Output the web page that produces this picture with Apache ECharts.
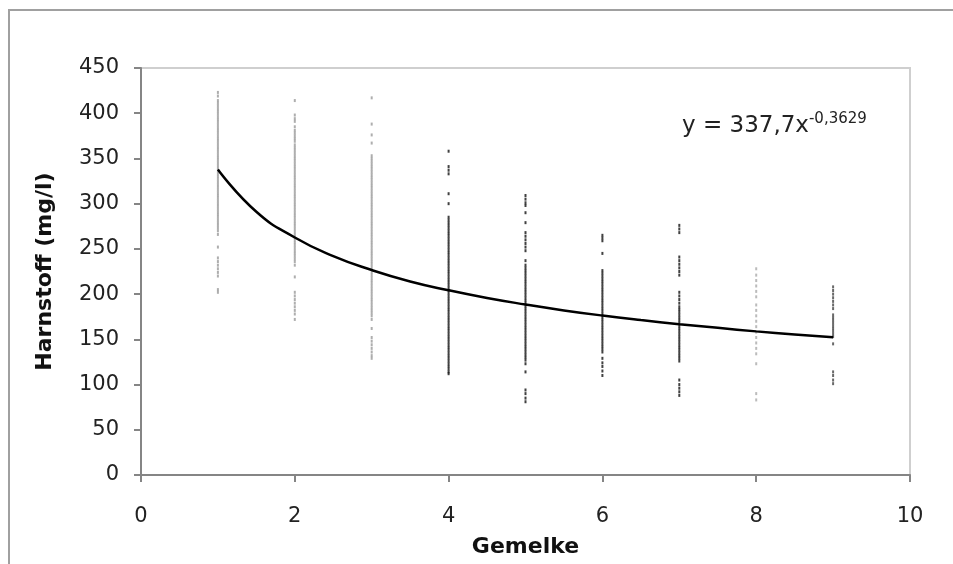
<!DOCTYPE html>
<html>
<head>
<meta charset="utf-8">
<script src="https://cdn.jsdelivr.net/npm/echarts@6/dist/echarts.min.js"></script>
<style>html,body{margin:0;padding:0;background:#fff}#c{width:953px;height:564px}</style>
</head>
<body>
<div id="c"></div>
<script>
// Gemelke (x positions of the columns)
const gemelke = [1, 2, 3, 4, 5, 6, 7, 8, 9];
// Harnstoff values (mg/l) per Gemelke
const col1 = [423, 419, 414, 411, 408, 405, 402, 399, 396, 393, 390, 387, 384, 381, 378, 375, 372, 369, 366, 363, 360, 357, 354, 351, 348, 345, 342, 339, 336, 333, 330, 327, 324, 321, 318, 315, 312, 309, 306, 303, 300, 297, 294, 291, 288, 285, 282, 279, 276, 273, 270, 266, 252, 240, 236, 232, 228, 224, 220, 205, 202];
const col2 = [414, 398, 394, 391, 385, 381, 378, 375, 372, 369, 365, 362, 359, 356, 353, 350, 347, 344, 341, 338, 335, 332, 329, 326, 323, 320, 317, 314, 311, 308, 305, 302, 299, 296, 293, 290, 287, 284, 281, 278, 275, 272, 269, 266, 263, 260, 257, 254, 251, 248, 245, 242, 239, 236, 232, 219, 202, 198, 194, 190, 186, 182, 178, 172];
const col3 = [417, 388, 376, 367, 353, 350, 347, 344, 341, 338, 335, 332, 329, 326, 323, 320, 317, 314, 311, 308, 305, 302, 299, 296, 293, 290, 287, 284, 281, 278, 275, 272, 269, 266, 263, 260, 257, 254, 251, 248, 245, 242, 239, 236, 233, 230, 227, 224, 221, 218, 215, 212, 209, 206, 203, 200, 197, 194, 191, 188, 185, 182, 179, 176, 172, 162, 152, 148, 144, 140, 136, 132, 129];
const col4 = [358, 341, 337, 333, 311, 300, 285, 282, 279, 276, 273, 270, 267, 264, 261, 258, 255, 252, 249, 246, 243, 240, 237, 234, 231, 228, 225, 222, 219, 216, 213, 210, 207, 204, 201, 198, 195, 192, 189, 186, 183, 180, 177, 174, 171, 168, 165, 162, 159, 156, 153, 150, 147, 144, 141, 138, 135, 132, 129, 126, 123, 120, 117, 114, 112];
const col5 = [309, 305, 301, 298, 290, 279, 268, 264, 260, 256, 252, 248, 237, 232, 229, 226, 223, 220, 217, 214, 211, 208, 205, 202, 199, 196, 193, 190, 187, 184, 181, 178, 175, 172, 169, 166, 163, 160, 157, 154, 151, 148, 145, 142, 139, 136, 133, 130, 127, 123, 114, 94, 90, 85, 81];
const col6 = [265, 262, 259, 245, 226, 223, 220, 217, 214, 211, 208, 205, 202, 199, 196, 193, 190, 187, 184, 181, 178, 175, 172, 169, 166, 163, 160, 157, 154, 151, 148, 145, 142, 139, 136, 129, 124, 120, 115, 110];
const col7 = [276, 272, 268, 241, 237, 233, 229, 225, 221, 202, 198, 194, 190, 186, 183, 180, 177, 174, 171, 168, 165, 162, 159, 156, 153, 150, 147, 144, 141, 138, 135, 132, 129, 126, 105, 100, 96, 92, 88];
const col8 = [228, 221, 215, 209, 203, 197, 188, 182, 176, 170, 164, 158, 152, 146, 140, 134, 123, 90, 83];
const col9 = [208, 204, 200, 196, 192, 188, 184, 177, 174, 171, 168, 165, 162, 159, 156, 153, 145, 114, 110, 105, 101];
// Trend line (power fit)
const trendX = [1, 1.5, 2, 2.5, 3, 3.5, 4, 4.5, 5, 5.5, 6, 6.5, 7, 7.5, 8, 8.5, 9];
const trendY = [337.7, 291, 262.6, 242, 226.6, 214, 204.2, 195.7, 188.5, 182, 176.3, 171.3, 166.8, 162.7, 158.8, 155.4, 152.2];
// Axis ticks
const xTicks = [0, 2, 4, 6, 8, 10];
const yTicks = [0, 50, 100, 150, 200, 250, 300, 350, 400, 450];
const eqMain = 'y = 337,7x';
const eqExp = '-0,3629';

const columns = [col1, col2, col3, col4, col5, col6, col7, col8, col9];
const colColors = ['#9a9a9a', '#9a9a9a', '#9a9a9a', '#111', '#111', '#111', '#111', '#aaa', '#444'];

const chart = echarts.init(document.getElementById('c'), null, {renderer: 'canvas'});
const FONT = 'DejaVu Sans';
const series = columns.map((vals, i) => ({
  type: 'scatter',
  symbol: 'rect',
  symbolSize: [2, 3],
  itemStyle: {color: colColors[i]},
  data: vals.map(v => [gemelke[i], v]),
  z: 2,
  silent: true
}));
series.push({
  type: 'line',
  data: trendX.map((x, i) => [x, trendY[i]]),
  smooth: true,
  symbol: 'none',
  lineStyle: {color: '#000', width: 2.5},
  z: 5,
  silent: true
});

chart.setOption({
  animation: false,
  backgroundColor: '#fff',
  grid: {left: 141, top: 68, right: 43, bottom: 89, show: true, borderColor: '#cfcfcf', borderWidth: 2, backgroundColor: 'transparent'},
  xAxis: {
    type: 'value', min: xTicks[0], max: xTicks[xTicks.length - 1], interval: 2,
    name: 'Gemelke', nameLocation: 'middle', nameGap: 61,
    nameTextStyle: {fontFamily: FONT, fontWeight: 'bold', fontSize: 22, color: '#111'},
    axisLine: {show: true, lineStyle: {color: '#858585', width: 2}},
    axisTick: {show: true, length: 7, lineStyle: {color: '#858585', width: 2}},
    axisLabel: {fontFamily: FONT, fontSize: 21, color: '#222', margin: 31},
    splitLine: {show: false}
  },
  yAxis: {
    type: 'value', min: yTicks[0], max: yTicks[yTicks.length - 1], interval: 50,
    name: 'Harnstoff (mg/l)', nameLocation: 'middle', nameGap: 85,
    nameTextStyle: {fontFamily: FONT, fontWeight: 'bold', fontSize: 22, color: '#111'},
    axisLine: {show: true, lineStyle: {color: '#858585', width: 2}},
    axisTick: {show: true, length: 7, lineStyle: {color: '#858585', width: 2}},
    axisLabel: {fontFamily: FONT, fontSize: 21, color: '#222', margin: 22},
    splitLine: {show: false}
  },
  graphic: [
    {type: 'rect', shape: {x: 9, y: 10, width: 1200, height: 900}, style: {fill: 'none', stroke: '#a0a0a0', lineWidth: 2}, z: 0, silent: true},
    {type: 'text', left: 682, top: 112, z: 10, silent: true,
      style: {text: '{m|' + eqMain + '}{e|' + eqExp + '}', rich: {
        m: {fontFamily: FONT, fontSize: 23, fill: '#222', color: '#222'},
        e: {fontFamily: FONT, fontSize: 15, fill: '#222', color: '#222', verticalAlign: 'top', padding: [0, 0, 14, 0]}
      }}}
  ],
  series: series
});
</script>
</body>
</html>
